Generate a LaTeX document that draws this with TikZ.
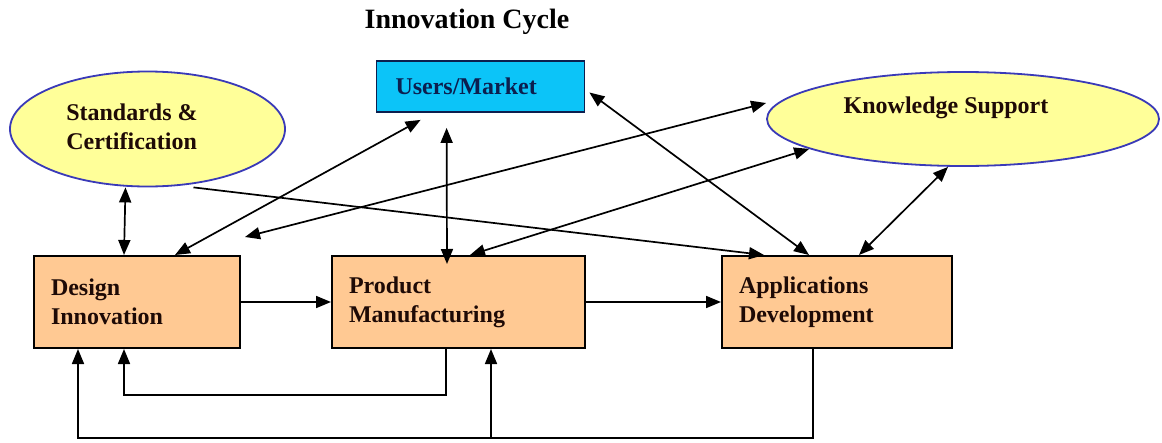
\documentclass[tikz,border=0pt]{standalone}
\usepackage{fontspec}
\setmainfont{Liberation Serif}
\usetikzlibrary{shapes.geometric}
\usetikzlibrary{arrows.meta}
\usetikzlibrary{positioning}

\definecolor{peach}{HTML}{FFC993}
\definecolor{skyblue}{HTML}{0CC4F8}
\definecolor{navy}{HTML}{0C1F4F}
\definecolor{paleyellow}{HTML}{FFFF99}
\definecolor{ovalblue}{HTML}{3A3AB8}
\definecolor{inkbrown}{HTML}{1E0A06}

\begin{document}
\begin{tikzpicture}[x=1pt, y=-1pt, font=\fontsize{24}{29}\selectfont\bfseries,
  stage/.style={rectangle, draw=black, line width=2pt, fill=peach, text=inkbrown,
    inner xsep=17pt, inner ysep=0pt, minimum height=92pt, align=left},
  support/.style={ellipse, draw=ovalblue, line width=1.8pt, fill=paleyellow, inner sep=0pt},
  link/.style={line width=1.7pt, -{Triangle[length=15pt,width=12pt]}},
  twoway/.style={line width=1.7pt, {Triangle[length=15pt,width=12pt]}-{Triangle[length=15pt,width=12pt]}}]

  % Page size and background
  \fill[white] (0,0) rectangle (1162,442);
  \useasboundingbox (0,0) rectangle (1162,442);

  % Title
  \node[font=\fontsize{28}{32}\selectfont\bfseries] (title) at (467,22) {Innovation Cycle};

  % Market on top
  \node[rectangle, draw=navy, line width=1.8pt, fill=skyblue, text=navy,
        inner xsep=19pt, inner ysep=0pt, text width=170pt, minimum height=51pt, align=left]
        (users) at (480.5,86.5) {Users/Market};

  % Support ovals
  \node[support, minimum width=275pt, minimum height=115pt] (std) at (147.5,129) {};
  \node[align=left, text=inkbrown] (stdtext) at (132,127) {Standards \&\\Certification};
  \node[support, minimum width=392pt, minimum height=94pt] (know) at (963,119) {};
  \node[text=inkbrown] (knowtext) at (946,108) {Knowledge Support};

  % Main stages
  \node[stage, text width=172pt] (design) at (137,302) {Design\\Innovation};
  \node[stage, text width=219pt] (product) at (458.5,302) {Product\\Manufacturing};
  \node[stage, text width=196pt] (apps) at (837,302) {Applications\\Development};

  % Loose end of the knowledge link
  \coordinate (loose) at (245,237);

  % Links to the support ovals and the market
  \draw[twoway] ([xshift=-22pt]std.south) -- ([xshift=91pt]design.north west);
  \draw[twoway] ([xshift=142pt]design.north west) -- ([xshift=45pt,yshift=-7pt]users.south west);
  \draw[twoway] (loose) -- ([yshift=16pt]know.west);
  \draw[twoway] ([xshift=139pt]product.north west) -- (know.191);
  \draw[twoway] ([xshift=71pt,yshift=-15pt]users.south west) -- ([xshift=116pt,yshift=-9pt]product.north west);
  \draw[twoway] ([xshift=4pt,yshift=-6pt]users.east) -- ([xshift=88pt]apps.north west);
  \draw[twoway] ([xshift=-15pt]know.south) -- ([xshift=138pt]apps.north west);
  \draw[link] ([xshift=46pt]std.south) -- ([xshift=43pt]apps.north west);

  % Forward flow
  \draw[link] (design) -- (product);
  \draw[link] (product) -- (apps);

  % Feedback loops
  \draw[link] ([xshift=115pt]product.south west) -- ++(0,46) -| ([xshift=91pt]design.south west);
  \draw[link] ([xshift=92pt]apps.south west) -- ++(0,89) -| ([xshift=45pt]design.south west);
  \draw[link] ([xshift=160pt,yshift=-89pt]product.south west) -- ([xshift=160pt]product.south west);

\end{tikzpicture}
\end{document}
